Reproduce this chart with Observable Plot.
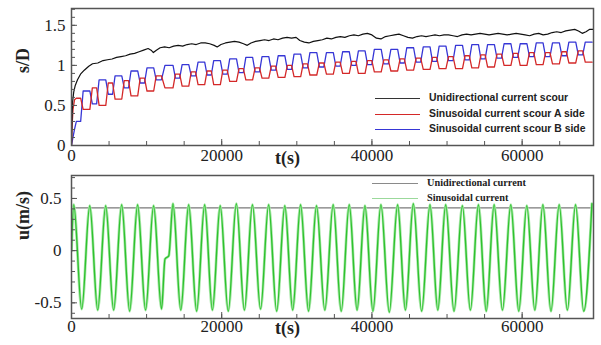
<!DOCTYPE html>
<html><head><meta charset="utf-8">
<script src="https://cdn.jsdelivr.net/npm/d3@7"></script>
<script src="https://cdn.jsdelivr.net/npm/@observablehq/plot@0.6"></script>
<style>
body{margin:0;background:#fff;}
#c{position:relative;width:601px;height:345px;overflow:hidden;background:#fff;}
#c svg{position:absolute;left:0;}
#c svg text{font-family:'Liberation Serif','Times New Roman',serif;}
.lg{position:absolute;white-space:nowrap;line-height:14px;height:14px;}
.ln{position:absolute;height:0;}
</style></head><body><div id="c"></div><script>
// ---------- data: unidirectional scour (top panel, black) ----------
const blackT = [0,60,150,300,500,800,1200,1700,2300,2800,3500,4200,4800,5400,6000,6600,7200,7800,8400,9000,9600,10200,10600,10900,11300,11800,12400,13000,13600,14200,14800,15400,16000,16600,17200,17800,18400,19000,19400,19900,20500,21100,21700,22300,22900,23400,23900,24500,25100,25700,26300,26900,27500,28100,28700,29300,29900,30400,31000,31600,32200,32800,33400,34000,34600,35200,35800,36400,37000,37600,38200,38800,39400,40000,40600,41200,41800,42400,43000,43600,44200,44800,45400,46000,46600,47200,47800,48400,49000,49600,50200,50800,51400,52000,52600,53200,53800,54400,55000,55600,56200,56800,57400,58000,58600,59200,59800,60400,61000,61600,62200,62800,63400,64000,64600,65200,65800,66400,67000,67500,68000,68500,69000,69500];
const blackS = [0,0.3,0.55,0.67,0.75,0.82,0.89,0.94,0.99,1.02,1.03,1.06,1.07,1.08,1.1,1.11,1.12,1.14,1.15,1.17,1.19,1.21,1.19,1.16,1.19,1.22,1.23,1.22,1.24,1.25,1.24,1.26,1.27,1.26,1.28,1.28,1.27,1.25,1.23,1.26,1.28,1.29,1.3,1.29,1.27,1.25,1.28,1.3,1.31,1.32,1.31,1.33,1.32,1.34,1.35,1.34,1.35,1.31,1.29,1.28,1.3,1.31,1.32,1.34,1.33,1.35,1.36,1.35,1.37,1.38,1.37,1.39,1.4,1.38,1.34,1.33,1.36,1.37,1.38,1.39,1.37,1.35,1.34,1.36,1.37,1.36,1.37,1.38,1.37,1.38,1.38,1.37,1.36,1.38,1.39,1.38,1.39,1.4,1.39,1.38,1.39,1.4,1.39,1.38,1.39,1.4,1.39,1.38,1.37,1.39,1.4,1.38,1.39,1.41,1.42,1.41,1.43,1.44,1.45,1.43,1.4,1.42,1.45,1.45];

// ---------- data: sinusoidal current (bottom panel, green) ----------
const peakT = [300,2430,4550,6680,8800,10930,13510,15600,17730,19800,21950,24090,26250,28400,30500,32620,34840,36980,39070,41200,43420,45510,47730,49820,52040,54180,56270,58490,60620,62760,64930,67110,69290];
const peakU = [0.44,0.43,0.43,0.44,0.44,0.43,0.45,0.44,0.44,0.43,0.45,0.44,0.44,0.43,0.44,0.43,0.44,0.44,0.43,0.44,0.44,0.45,0.44,0.44,0.43,0.44,0.44,0.44,0.43,0.44,0.44,0.44,0.45];
const troughT = [1360,3490,5610,7740,9860,11990,14550,16660,18760,20870,23020,25170,27320,29450,31560,33730,35910,38020,40130,42310,44460,46620,48770,50930,53110,55220,57380,59550,61690,63840,66020,68200];
const troughU = [-0.56,-0.57,-0.57,-0.58,-0.57,-0.56,-0.57,-0.58,-0.57,-0.58,-0.57,-0.56,-0.58,-0.57,-0.58,-0.57,-0.58,-0.57,-0.58,-0.59,-0.57,-0.58,-0.57,-0.58,-0.57,-0.58,-0.57,-0.58,-0.57,-0.58,-0.57,-0.58];
const extraT = [0,12450,12950];
const extraU = [0.0,-0.08,-0.05];
const uniT = [0,69500];
const uniU = [0.41,0.41];

// ---------- data: sinusoidal scour, A side (red) and B side (blue) ----------
const blueHighS = [0.68,0.82,0.87,0.93,0.97,1.00,1.01,1.04,1.06,1.08,1.10,1.11,1.12,1.14,1.16,1.16,1.17,1.18,1.20,1.20,1.22,1.23,1.24,1.25,1.26,1.26,1.27,1.27,1.28,1.28,1.29,1.29];
const redLowS   = [0.45,0.50,0.58,0.62,0.68,0.72,0.74,0.76,0.76,0.80,0.82,0.84,0.85,0.86,0.88,0.89,0.90,0.90,0.92,0.93,0.94,0.95,0.96,0.96,0.97,0.98,1.00,1.00,1.01,1.02,1.03,1.04];
const redHighS  = [0.59,0.72,0.78,0.81,0.84,0.87,0.89,0.92,0.93,0.94,0.96,0.97,0.99,1.00,1.02,1.03,1.04,1.05,1.06,1.07,1.08,1.09,1.10,1.11,1.12,1.13,1.14,1.15,1.16,1.16,1.17,1.18];
const blueLowS  = [0.30,0.52,0.64,0.72,0.78,0.82,0.84,0.87,0.88,0.89,0.91,0.92,0.94,0.95,0.97,0.98,0.99,1.00,1.01,1.02,1.03,1.04,1.05,1.06,1.07,1.08,1.09,1.10,1.11,1.11,1.12,1.13];
const redEarlyT = [0,80,200,400], redEarlyS = [0,0.25,0.45,0.57];
const blueEarlyT = [0,150,400], blueEarlyS = [0,0.08,0.2];
const scourLag = 430;

// tick values
const xMajor = [0,20000,40000,60000];
const xMinor = d3.range(5000,69500,5000);
const sMajor = [0,0.5,1,1.5];
const sMinor = d3.range(0,1.71,0.1);
const uMajor = [-0.5,0,0.5];
const uMinor = d3.range(-0.6,0.71,0.1);

// ---------- build tables ----------
const blackData = blackT.map((t,i)=>({t, s:blackS[i]}));
const vel = [];
extraT.forEach((t,i)=>vel.push({t,u:extraU[i]}));
peakT.forEach((t,i)=>vel.push({t,u:peakU[i]}));
troughT.forEach((t,i)=>vel.push({t,u:troughU[i]}));
vel.sort((a,b)=>a.t-b.t);
const uniData = uniT.map((t,i)=>({t,u:uniU[i]}));

const ext = [];
peakT.forEach((t,i)=>{ext.push({t,peak:true,k:i}); if(i<troughT.length) ext.push({t:troughT[i],peak:false,k:i});});
function scour(earlyT, earlyS, lvl) {
  const pts = earlyT.map((t,i)=>({t,s:earlyS[i]}));
  for (let j=1;j<ext.length;j++){
    const e=ext[j];
    const cc=e.t-scourLag;
    const gL=e.t-ext[j-1].t, gR=(j<ext.length-1?ext[j+1].t-e.t:gL);
    const f=e.peak?0.42:0.27;
    const v=lvl(e);
    pts.push({t:cc-f*gL,s:v},{t:cc+f*gR,s:v});
  }
  return pts;
}
const redData = scour(redEarlyT, redEarlyS, e=> e.peak ? redLowS[e.k-1] : redHighS[e.k]);
const blueData = scour(blueEarlyT, blueEarlyS, e=> e.peak ? blueHighS[e.k-1] : blueLowS[e.k]);

const W=601, serif="Liberation Serif";
const xDom=[0,69500];

// ---------- top panel ----------
const topH=170, tML=71, tMR=8, tMT=8, tMB=25;
const topPlot = Plot.plot({
  width:W, height:topH, marginLeft:tML, marginRight:tMR, marginTop:tMT, marginBottom:tMB,
  style:{fontSize:"17px", color:"#222", background:"transparent", overflow:"visible"},
  x:{domain:xDom, axis:null},
  y:{domain:[0,1.71], axis:null},
  marks:[
    Plot.line(blueData,{x:"t",y:"s",stroke:"#3636d6",strokeWidth:1.3,clip:true}),
    Plot.line(redData,{x:"t",y:"s",stroke:"#d42828",strokeWidth:1.3,clip:true}),
    Plot.line(blackData,{x:"t",y:"s",stroke:"#111",strokeWidth:1.2,clip:true}),
    Plot.tickX(xMinor,{x:d=>d,stroke:"#555",insetTop:topH-tMT-tMB-4}),
    Plot.tickX(xMajor,{x:d=>d,stroke:"#555",insetTop:topH-tMT-tMB-6}),
    Plot.tickY(sMinor,{y:d=>d,stroke:"#555",insetRight:W-tML-tMR-4}),
    Plot.tickY(sMajor,{y:d=>d,stroke:"#555",insetRight:W-tML-tMR-6}),
    Plot.axisX({ticks:xMajor,tickSize:0,tickPadding:3,tickFormat:d=>String(d),label:null,fontSize:17,fontFamily:serif}),
    Plot.axisY({ticks:sMajor,tickSize:0,tickPadding:6,tickFormat:d=>String(d),label:null,fontSize:17,fontFamily:serif}),
    Plot.frame({stroke:"#555",strokeWidth:1.5}),
    Plot.text(["s/D"],{frameAnchor:"left",dx:-48,dy:-4,rotate:-90,fontWeight:"bold",fontSize:18,fontFamily:serif}),
    Plot.text(["t(s)"],{frameAnchor:"bottom",dx:-45,dy:18,fontWeight:"bold",fontSize:18,fontFamily:serif})
  ]
});
topPlot.style.top="0px";

// ---------- bottom panel ----------
const botH=175, bML=71, bMR=8, bMT=5, bMB=27;
const botPlot = Plot.plot({
  width:W, height:botH, marginLeft:bML, marginRight:bMR, marginTop:bMT, marginBottom:bMB,
  style:{fontSize:"17px", color:"#222", background:"transparent", overflow:"visible"},
  x:{domain:xDom, axis:null},
  y:{domain:[-0.65,0.72], axis:null},
  marks:[
    Plot.line(uniData,{x:"t",y:"u",stroke:"#7a7a7a",strokeWidth:1.3,clip:true}),
    Plot.line(vel,{x:"t",y:"u",stroke:"#aae8aa",strokeWidth:2.8,curve:"monotone-x",clip:true}),
    Plot.line(vel,{x:"t",y:"u",stroke:"#2fc22f",strokeWidth:1.4,curve:"monotone-x",clip:true}),
    Plot.tickX(xMinor,{x:d=>d,stroke:"#555",insetTop:botH-bMT-bMB-4}),
    Plot.tickX(xMajor,{x:d=>d,stroke:"#555",insetTop:botH-bMT-bMB-6}),
    Plot.tickY(uMinor,{y:d=>d,stroke:"#555",insetRight:W-bML-bMR-4}),
    Plot.tickY(uMajor,{y:d=>d,stroke:"#555",insetRight:W-bML-bMR-6}),
    Plot.axisX({ticks:xMajor,tickSize:0,tickPadding:1,tickFormat:d=>String(d),label:null,fontSize:17,fontFamily:serif}),
    Plot.axisY({ticks:uMajor,tickSize:0,tickPadding:10,tickFormat:d=>String(d),label:null,fontSize:17,fontFamily:serif}),
    Plot.frame({stroke:"#555",strokeWidth:1.5}),
    Plot.text(["u(m/s)"],{frameAnchor:"left",dx:-48,dy:-7,rotate:-90,fontWeight:"bold",fontSize:18,fontFamily:serif}),
    Plot.text(["t(s)"],{frameAnchor:"bottom",dx:-45,dy:15,fontWeight:"bold",fontSize:18,fontFamily:serif})
  ]
});
botPlot.style.top="170px";

const c=document.getElementById("c");
c.appendChild(topPlot); c.appendChild(botPlot);

// ---------- legends ----------
function leg(items, x1, x2, tx, font, size){
  items.forEach(([label,color,y])=>{
    const l=document.createElement("div");
    l.className="ln";
    l.style.cssText=`left:${x1}px;width:${x2-x1}px;top:${y}px;border-top:1.2px solid ${color};`;
    c.appendChild(l);
    const t=document.createElement("div");
    t.className="lg";
    t.textContent=label;
    t.style.cssText+=`left:${tx}px;top:${y-7}px;font-family:${font};font-size:${size}px;font-weight:bold;color:#222;`;
    c.appendChild(t);
  });
}
leg([["Unidirectional current scour","#333",98],["Sinusoidal current scour A side","#d42828",114],["Sinusoidal current scour B side","#3636d6",129]],375,420,429,"'Liberation Sans',Arial,sans-serif",10.4);
leg([["Unidirectional current","#8a8a8a",183],["Sinusoidal current","#9bd99b",198]],372,418,427,"'Liberation Serif',serif",10.3);
</script></body></html>
